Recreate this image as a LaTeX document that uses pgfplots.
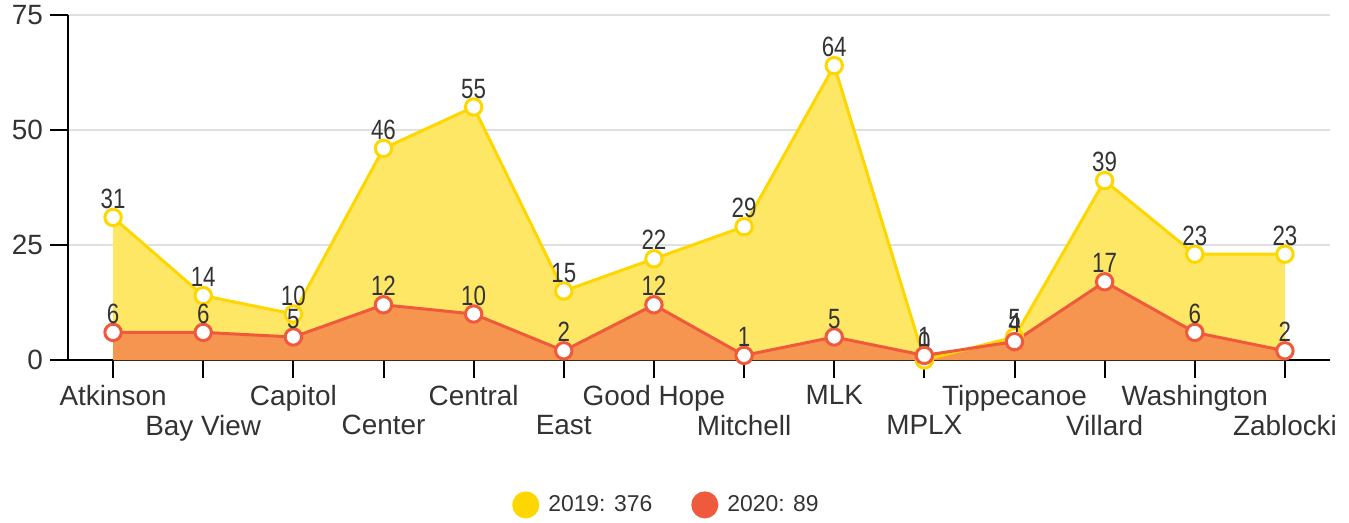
\documentclass[border=0pt]{standalone}
\usepackage{pgfplots}
\pgfplotsset{compat=1.18}
\usepackage{fontspec}
\setmainfont{Liberation Sans}
\newfontfamily\condfont{Liberation Sans}[FakeStretch=0.8]
\definecolor{ylw}{HTML}{FFD700}
\definecolor{ylwfill}{HTML}{FFE766}
\definecolor{rd}{HTML}{F05A3C}
\definecolor{orfill}{HTML}{F5954F}
\definecolor{txt}{HTML}{333333}
\definecolor{gridc}{HTML}{E0E0E0}
\begin{document}
\begin{tikzpicture}
\path[use as bounding box] (-34bp,-81.5bp) rectangle (640.5bp,180bp);
\begin{axis}[
  /pgf/number format/assume math mode=true,
  at={(0,0)}, anchor=south west,
  scale only axis, width=631bp, height=172.5bp,
  xmin=-0.5, xmax=13.5, ymin=0, ymax=75,
  axis lines*=left,
  axis line style={black, line width=1bp},
  ytick={0,25,50,75},
  ymajorgrids, grid style={draw=gridc, line width=0.8bp},
  tick align=outside, major tick length=9bp,
  tick style={black, line width=1bp},
  xtick={0,2,4,6,8,10,12},
  xticklabels={Atkinson,Capitol,Central,Good Hope,MLK,Tippecanoe,Washington},
  extra x ticks={1,3,5,7,9,11,13},
  extra x tick labels={Bay View,Center,East,Mitchell,MPLX,Villard,Zablocki},
  extra x tick style={tick label style={yshift=-15bp}},
  ticklabel style={font=\fontsize{14}{16}\selectfont, text=txt},
  legend style={at={(0.347,-0.42)}, anchor=west, draw=none, fill=none,
    font=\fontsize{11.5}{14}\selectfont, text=txt, legend columns=2,
    /tikz/every even column/.append style={column sep=17.5bp}},
  legend cell align=left,
]
\addplot[fill=ylwfill, draw=none, forget plot] coordinates {
(0,31)(1,14)(2,10)(3,46)(4,55)(5,15)(6,22)(7,29)(8,64)(9,0)(10,5)(11,39)(12,23)(13,23)} \closedcycle;
\addplot[fill=orfill, draw=none, forget plot] coordinates {
(0,6)(1,6)(2,5)(3,12)(4,10)(5,2)(6,12)(7,1)(8,5)(9,1)(10,4)(11,17)(12,6)(13,2)} \closedcycle;
\addplot[ylw, line width=1.5bp, mark=*, mark size=4.1bp,
  mark options={fill=white, draw=ylw, line width=1.5bp},
  nodes near coords, every node near coord/.append style={font=\condfont\fontsize{14}{16}\selectfont, text=txt, anchor=base, yshift=4.5bp, inner sep=0pt},
  legend image code/.code={\fill[ylw] (0bp,0bp) circle (6bp);}] coordinates {
(0,31)(1,14)(2,10)(3,46)(4,55)(5,15)(6,22)(7,29)(8,64)(9,0)(10,5)(11,39)(12,23)(13,23)};
\addlegendentry{\hspace{2.5bp}2019: 376}
\addplot[rd, line width=1.5bp, mark=*, mark size=4.1bp,
  mark options={fill=white, draw=rd, line width=1.5bp},
  nodes near coords, every node near coord/.append style={font=\condfont\fontsize{14}{16}\selectfont, text=txt, anchor=base, yshift=4.5bp, inner sep=0pt},
  legend image code/.code={\fill[rd] (0bp,0bp) circle (6bp);}] coordinates {
(0,6)(1,6)(2,5)(3,12)(4,10)(5,2)(6,12)(7,1)(8,5)(9,1)(10,4)(11,17)(12,6)(13,2)};
\addlegendentry{\hspace{2.5bp}2020: 89}
\end{axis}
\end{tikzpicture}
\end{document}
